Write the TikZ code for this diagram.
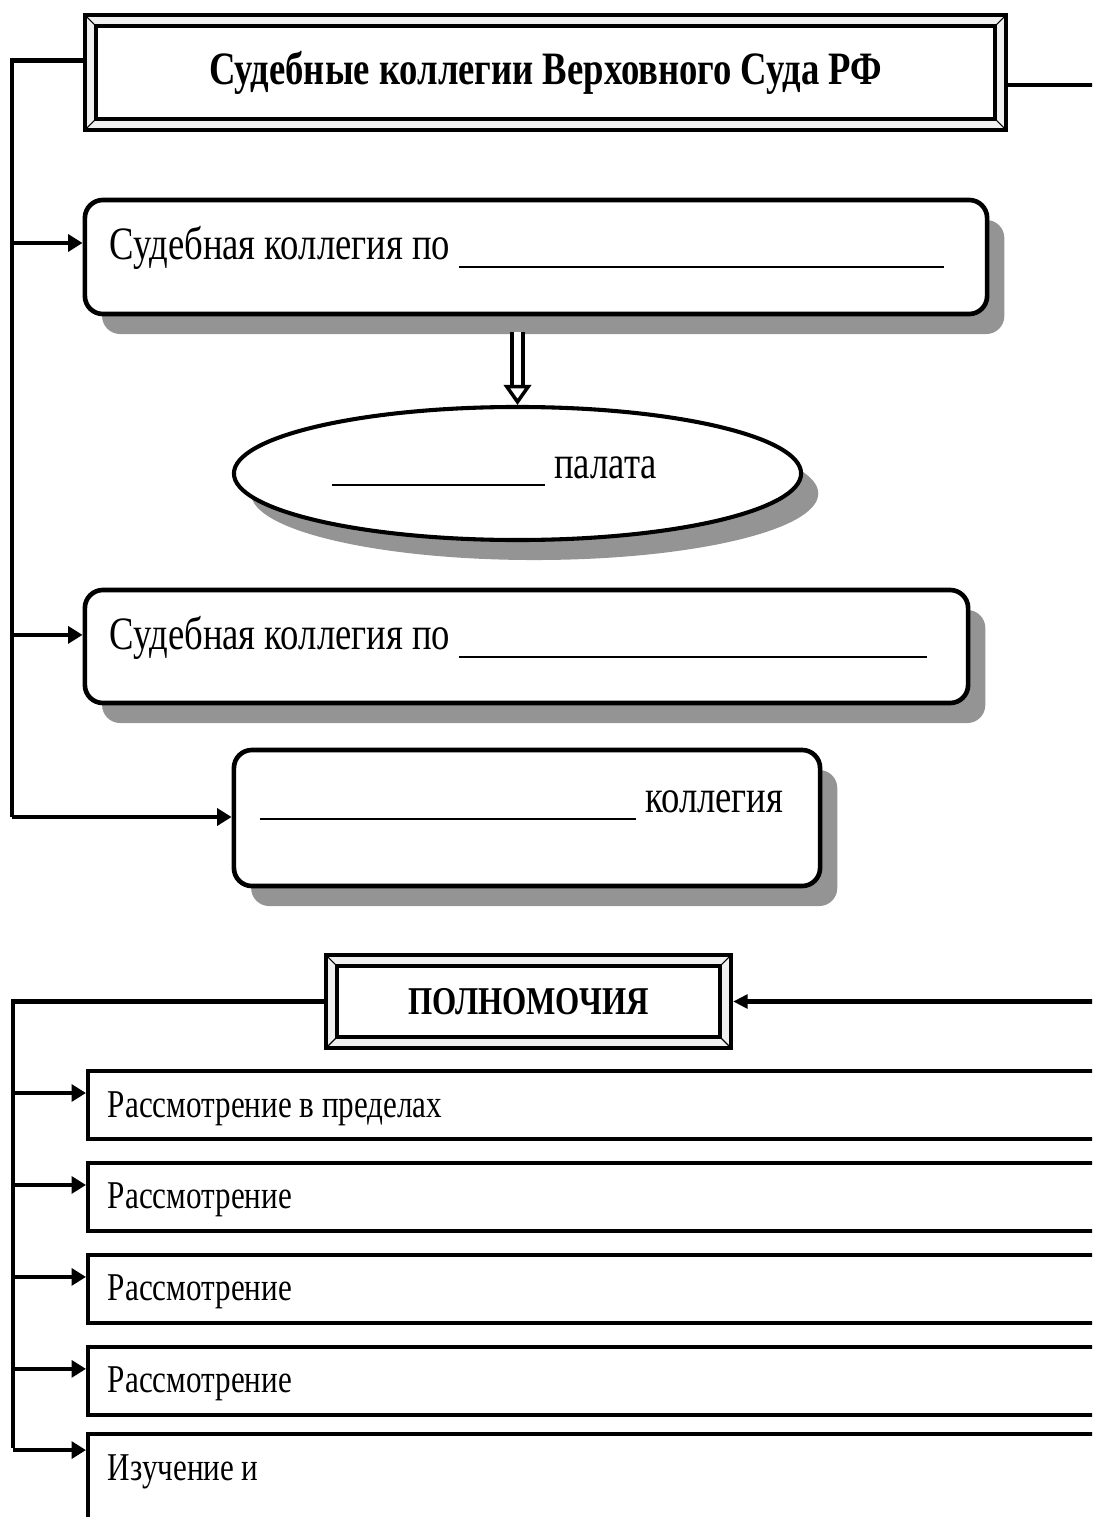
\documentclass[tikz,border=0pt]{standalone}
\usepackage{fontspec}
\setmainfont{Liberation Serif}[FakeStretch=0.79]
\usetikzlibrary{positioning, shapes.geometric, shadows, arrows.meta}

\newcommand{\blankline}[1]{\rule[-6pt]{#1}{1.4pt}}
\newcommand{\titlesize}{\fontsize{33}{36}\selectfont\bfseries}
\newcommand{\boxsize}{\fontsize{33}{36}\selectfont}
\newcommand{\itemsize}{\fontsize{28}{31}\selectfont}

\tikzstyle{frame} = [rectangle, draw=black, line width=3pt, double=gray!12, double distance=4.8pt, fill=white, outer sep=5.4pt]
\tikzstyle{kbox} = [rectangle, rounded corners=0.45cm, draw=black, line width=3.3pt, fill=white, align=flush left, inner xsep=0.625cm, inner ysep=0pt, text height=0.9cm, text depth=0.75cm, font=\boxsize, drop shadow={shadow xshift=0.43cm, shadow yshift=-0.5cm, fill=black!42, opacity=1}]
\tikzstyle{oval} = [ellipse, draw=black, line width=2.9pt, fill=white, text height=0.65cm, text depth=0.425cm, font=\boxsize, drop shadow={shadow xshift=0.43cm, shadow yshift=-0.5cm, fill=black!42, opacity=1}]
\tikzstyle{pbox} = [rectangle, draw=black, line width=2.8pt, fill=white, align=flush left, text width=25cm, inner xsep=0.5cm, inner ysep=0pt, minimum height=1.7cm, text height=0.8cm, text depth=0.2cm, font=\itemsize]
\tikzstyle{conn} = [line width=3pt]
\tikzstyle{arrow} = [line width=3pt, -{Triangle[length=0.36cm, width=0.42cm]}]
\tikzstyle{openarrow} = [line width=2.5pt, double=white, double distance=5.5pt, -{Triangle[open, length=0.5cm, width=0.68cm]}]

\begin{document}
\begin{tikzpicture}[x=0.025cm, y=-0.025cm]
\useasboundingbox (0,0) rectangle (1092,1517);
\clip (0,0) rectangle (1092,1517);

% коллегии
\node (top) [frame, minimum width=22.75cm, minimum height=2.6cm, font=\titlesize] at (545.5,72.5) {Судебные коллегии Верховного Суда РФ};
\node (k1) [kbox, text width=21.3cm, minimum height=2.85cm] at (536,257) {\mbox{Судебная коллегия по \blankline{12.1cm}}};
\node (pal) [oval, minimum width=14.175cm, minimum height=3.325cm] at (517.5,473.5) {\blankline{5.325cm} палата\hspace*{1.15cm}};
\node (k2) [kbox, text width=20.825cm, minimum height=2.825cm] at (526.5,646.5) {\mbox{Судебная коллегия по \blankline{11.675cm}}};
\node (k3) [kbox, text width=13.35cm, minimum height=3.4cm, inner xsep=0.65cm, text height=0.6cm, text depth=0.9cm] at (527,818) {\blankline{9.4cm} коллегия};

% полномочия
\node (poln) [frame, minimum width=9.85cm, minimum height=2.05cm, font=\itemsize\bfseries] at (528.5,1001.5) {ПОЛНОМОЧИЯ};
\node (p1) [pbox, anchor=west] at (86,1105) {Рассмотрение в пределах};
\node (p2) [pbox, below=0.5cm of p1] {Рассмотрение};
\node (p3) [pbox, below=0.5cm of p2] {Рассмотрение};
\node (p4) [pbox, below=0.5cm of p3] {Рассмотрение};
\node (p5) [pbox, below=0.38cm of p4, minimum height=4.5cm, text height=0.8cm, text depth=3cm] {Изучение и};

\foreach \n in {top,poln}
  \foreach \c/\sx/\sy in {north west/1/-1, north east/-1/-1, south west/1/1, south east/-1/1}
    \draw[line width=0.8pt] ([shift={(\sx*1.5pt,\sy*1.5pt)}]\n.\c) -- ([shift={(\sx*9.3pt,\sy*9.3pt)}]\n.\c);

\coordinate (s1) at (12,817);
\coordinate (s2) at (13,1448);
\coordinate (rr) at (1130,1001.5);

\draw[conn] ([yshift=0.3cm]top.west) -| (s1);
\draw[arrow] ([yshift=0.35cm]k1.west -| s1) -- ([yshift=0.35cm]k1.west);
\draw[arrow] ([yshift=0.29cm]k2.west -| s1) -- ([yshift=0.29cm]k2.west);
\draw[arrow] (s1) -- (k3.west |- s1);
\draw[openarrow, shorten <=0.4cm] (pal.north |- k1.south) -- (pal.north);

\draw[conn, -{Triangle[length=0.36cm, width=0.34cm]}] ([yshift=-0.31cm]top.east) -| (rr) -- (poln.east);
\draw[conn] (poln.west) -| (s2);
\foreach \p in {p1,p2,p3,p4}
  \draw[arrow] ([yshift=0.3cm]\p.west -| s2) -- ([yshift=0.3cm]\p.west);
\draw[arrow] ([yshift=-0.45cm]p5.north west -| s2) -- ([yshift=-0.45cm]p5.north west);

\end{tikzpicture}
\end{document}
